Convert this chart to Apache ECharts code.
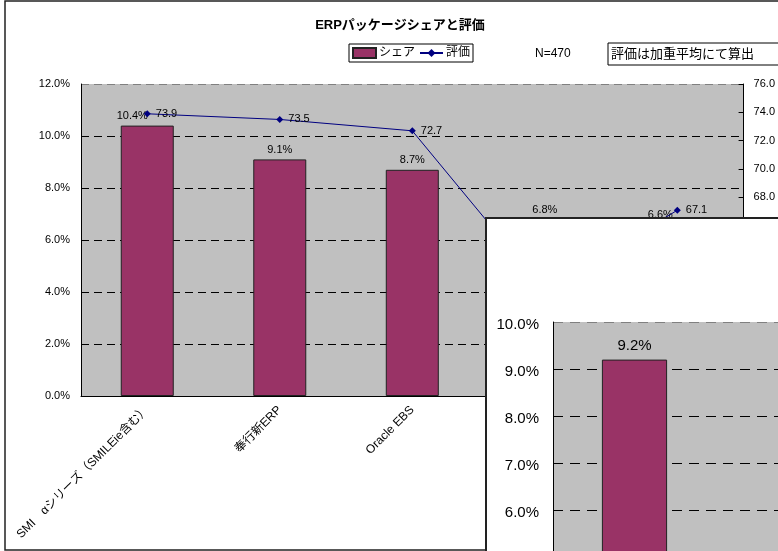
<!DOCTYPE html>
<html>
<head>
<meta charset="utf-8">
<script src="https://cdn.jsdelivr.net/npm/echarts@6/dist/echarts.min.js"></script>
<style>
  html, body { margin: 0; padding: 0; overflow: hidden; background: #fff; }
  #main { position: absolute; left: 0; top: 0; width: 778px; height: 551px; }
  #zoomPanel {
    position: absolute; left: 485px; top: 217px; width: 420px; height: 600px;
    background: #fff; border-left: 2px solid #222; border-top: 2px solid #222;
  }
</style>
</head>
<body>
<div id="main"></div>
<div id="zoomPanel"></div>
<script>
// main chart data
const categories = ['SMI\u3000αシリーズ（SMILEie含む）', '奉行新ERP', 'Oracle EBS', 'SAP ERP', 'GLOVIA'];
const shareValues = [10.4, 9.1, 8.7, 6.8, 6.6];
const ratingValues = [73.9, 73.5, 72.7, 61.4, 67.1];
const leftTicks = {min: 0, max: 12, interval: 2};
const rightTicks = {min: 54, max: 76, interval: 2};

// second (overlapping) chart data
const panelCategories = ['', ''];
const panelShare = [9.2, null];

const FONT = '"Liberation Sans", "Noto Sans CJK JP", sans-serif';
const BAR = '#993366';
const LINE = '#000080';

// share labels that were nudged left in the original
const shiftedLabels = {0: -15, 4: -17};

let mainChart = echarts.init(document.getElementById('main'));
mainChart.setOption({
    textStyle: {fontFamily: FONT},
    animation: false,
    title: {
        text: 'ERPパッケージシェアと評価',
        left: 395,
        textAlign: 'center',
        top: 14,
        textStyle: {fontSize: 13, fontWeight: 'bold', color: '#000', fontFamily: FONT}
    },
    legend: {
        left: 349,
        top: 44,
        padding: [3, 3],
        borderColor: '#000',
        borderWidth: 1,
        itemWidth: 23,
        itemHeight: 10,
        itemGap: 4,
        textStyle: {fontSize: 12, color: '#000', padding: [0, 0, 0, -2]},
        data: [{name: 'シェア', icon: 'rect'}, {name: '評価'}]
    },
    graphic: [
        {
            type: 'rect', z: -10, silent: true,
            shape: {x: 5, y: 1, width: 820, height: 549},
            style: {fill: 'none', stroke: '#222', lineWidth: 1.5}
        },
        {
            type: 'text', left: 535, top: 48,
            style: {text: 'N=470', font: '12px ' + FONT, fill: '#000'}
        },
        {
            type: 'rect', silent: true,
            shape: {x: 608, y: 43, width: 200, height: 22},
            style: {fill: '#fff', stroke: '#000', lineWidth: 1}
        },
        {
            type: 'text', left: 611, top: 47,
            style: {text: '評価は加重平均にて算出', font: '13px "Noto Sans CJK JP"', fill: '#000'}
        }
    ],
    grid: {left: 81, right: 33, top: 84, bottom: 155, show: true, backgroundColor: '#C0C0C0', borderWidth: 0},
    xAxis: {
        type: 'category',
        data: categories,
        axisLine: {lineStyle: {color: '#000', width: 1}},
        axisTick: {inside: true, length: 4, lineStyle: {color: '#000'}},
        axisLabel: {rotate: 45, fontSize: 12, color: '#000', margin: 12, interval: 0}
    },
    yAxis: [
        {
            type: 'value',
            min: leftTicks.min, max: leftTicks.max, interval: leftTicks.interval,
            axisLine: {show: true, lineStyle: {color: '#000'}},
            axisTick: {show: false},
            axisLabel: {fontSize: 11, color: '#000', margin: 11, formatter: v => v.toFixed(1) + '%'},
            splitLine: {
                show: true,
                lineStyle: {type: [8, 5], width: 1, color: ['#000', '#000', '#000', '#000', '#000', '#000', '#808080']}
            }
        },
        {
            type: 'value',
            min: rightTicks.min, max: rightTicks.max, interval: rightTicks.interval,
            position: 'right',
            axisLine: {show: true, lineStyle: {color: '#000'}},
            axisTick: {show: true, inside: true, length: 5, lineStyle: {color: '#000'}},
            axisLabel: {fontSize: 11, color: '#000', margin: 10, formatter: v => v.toFixed(1)},
            splitLine: {show: false}
        }
    ],
    series: [
        {
            name: 'シェア',
            type: 'bar',
            barWidth: '40%',
            itemStyle: {color: BAR, borderColor: '#222', borderWidth: 1},
            label: {show: true, position: 'top', distance: 4, fontSize: 11, color: '#000', formatter: p => p.value.toFixed(1) + '%'},
            data: shareValues.map(function (v, i) {
                if (shiftedLabels[i] !== undefined) {
                    return {value: v, label: {offset: [shiftedLabels[i], 0]}};
                }
                return v;
            })
        },
        {
            name: '評価',
            type: 'line',
            yAxisIndex: 1,
            symbol: 'diamond',
            symbolSize: 7,
            lineStyle: {color: LINE, width: 1},
            itemStyle: {color: LINE},
            label: {show: true, position: 'right', distance: 5, fontSize: 11, color: '#000', formatter: p => p.value.toFixed(1)},
            data: ratingValues
        }
    ]
});

let panelChart = echarts.init(document.getElementById('zoomPanel'));
panelChart.setOption({
    textStyle: {fontFamily: FONT},
    animation: false,
    grid: {left: 66, top: 103, width: 326, height: 470, show: true, backgroundColor: '#C0C0C0', borderWidth: 0},
    xAxis: {
        type: 'category',
        data: panelCategories,
        axisLine: {lineStyle: {color: '#000'}},
        axisTick: {inside: true, lineStyle: {color: '#000'}},
        axisLabel: {show: false}
    },
    yAxis: {
        type: 'value',
        min: 0, max: 10, interval: 1,
        axisLine: {show: true, lineStyle: {color: '#000'}},
        axisTick: {show: false},
        axisLabel: {
            color: '#000', margin: 14,
            formatter: v => '{a|' + v.toFixed(1) + '%}',
            rich: {a: {fontSize: 15, color: '#000', padding: [6, 0, 0, 0]}}
        },
        splitLine: {
            show: true,
            lineStyle: {type: [10, 7], width: 1, color: ['#000', '#000', '#000', '#000', '#000', '#000', '#000', '#000', '#000', '#000', '#808080']}
        }
    },
    series: [
        {
            type: 'bar',
            barWidth: '40%',
            itemStyle: {color: BAR, borderColor: '#222', borderWidth: 1},
            label: {show: true, position: 'top', distance: 6, fontSize: 15, color: '#000', formatter: p => p.value.toFixed(1) + '%'},
            data: panelShare
        }
    ]
});
</script>
</body>
</html>
